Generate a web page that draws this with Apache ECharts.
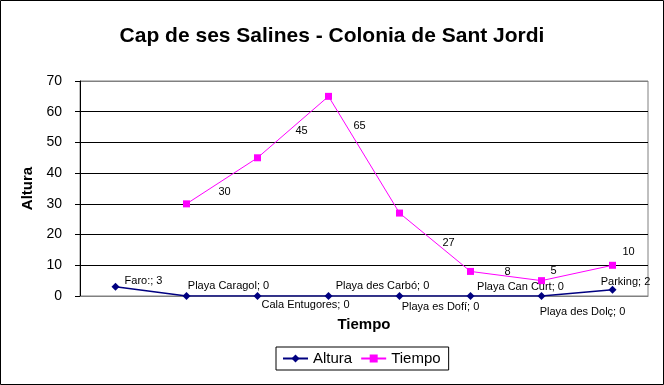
<!DOCTYPE html>
<html>
<head>
<meta charset="utf-8">
<script src="https://cdn.jsdelivr.net/npm/echarts@6/dist/echarts.min.js"></script>
<style>
html,body{margin:0;padding:0;background:#fff;}
#c{width:664px;height:385px;}
</style>
</head>
<body>
<div id="c"></div>
<script>
const categories = ["Faro:", "Playa Caragol", "Cala Entugores", "Playa des Carbó", "Playa es Dofí", "Playa Can Curt", "Playa des Dolç", "Parking"];
const altura = [3, 0, 0, 0, 0, 0, 0, 2];
const tiempo = [null, 30, 45, 65, 27, 8, 5, 10];
const yTicks = { min: 0, max: 70, interval: 10 };

// label placement offsets (styling only)
const alturaLabelOffsets = [[28,-6],[42,-10],[48,9],[54,-10],[41,11],[50,-9],[41,16],[13,-8]];
const tiempoLabelOffsets = [null,[38,-12],[44,-27],[31,30],[49,30],[37,1],[12,-10],[16,-13]];

const FONT = "Liberation Sans, Arial, sans-serif";

const chart = echarts.init(document.getElementById('c'), null, {renderer:'canvas'});

const alturaData = altura.map((v,i)=>({
  value: v,
  label: { offset: alturaLabelOffsets[i] }
}));
const tiempoData = tiempo.map((v,i)=>({
  value: v,
  label: { offset: tiempoLabelOffsets[i] || [0,0] }
}));

chart.setOption({
  animation: false,
  backgroundColor: '#fff',
  title: {
    text: 'Cap de ses Salines - Colonia de Sant Jordi',
    left: 'center',
    top: 21,
    textStyle: { fontFamily: FONT, fontSize: 21, fontWeight: 'bold', color: '#000' }
  },
  grid: { left: 80, top: 81, right: 16, bottom: 89, show: true, borderColor: '#808080', borderWidth: 1, backgroundColor: 'transparent' },
  legend: {
    data: ['Altura','Tiempo'],
    left: 276,
    top: 347,
    itemWidth: 25,
    itemHeight: 10,
    itemGap: 8,
    padding: [4,8,4,6],
    borderColor: '#000',
    borderWidth: 1,
    textStyle: { fontFamily: FONT, fontSize: 15, color: '#000' }
  },
  xAxis: {
    type: 'category',
    data: categories,
    boundaryGap: true,
    name: 'Tiempo',
    nameLocation: 'middle',
    nameGap: 21,
    nameTextStyle: { fontFamily: FONT, fontSize: 15, fontWeight: 'bold', color: '#000' },
    axisLine: { lineStyle: { color: '#808080' } },
    axisTick: { show: false },
    axisLabel: { show: false }
  },
  yAxis: {
    type: 'value',
    min: yTicks.min,
    max: yTicks.max,
    interval: yTicks.interval,
    name: 'Altura',
    nameLocation: 'middle',
    nameGap: 41,
    nameTextStyle: { fontFamily: FONT, fontSize: 15, fontWeight: 'bold', color: '#000' },
    axisLine: { show: true, lineStyle: { color: '#000' } },
    axisTick: { show: true, length: 5, lineStyle: { color: '#000' } },
    axisLabel: { fontFamily: FONT, fontSize: 14, color: '#000', margin: 18 },
    splitLine: { show: true, lineStyle: { color: ['#808080','#000','#000','#000','#000','#000','#000','#808080'] } }
  },
  series: [
    {
      name: 'Altura',
      type: 'line',
      data: alturaData,
      color: '#000080',
      symbol: 'diamond',
      symbolSize: 8,
      lineStyle: { width: 1.5, color: '#000080' },
      itemStyle: { color: '#000080' },
      z: 3,
      label: {
        show: true,
        position: 'inside',
        formatter: p => p.name + '; ' + p.value,
        fontFamily: FONT,
        fontSize: 11,
        color: '#000'
      }
    },
    {
      name: 'Tiempo',
      type: 'line',
      data: tiempoData,
      color: '#FF00FF',
      symbol: 'rect',
      symbolSize: 7,
      connectNulls: false,
      lineStyle: { width: 1, color: '#FF00FF' },
      itemStyle: { color: '#FF00FF' },
      label: {
        show: true,
        position: 'inside',
        formatter: p => String(p.value),
        fontFamily: FONT,
        fontSize: 11,
        color: '#000'
      }
    }
  ],
  graphic: [
    { type: 'rect', shape: { x: 0.5, y: 0.5, width: 663, height: 384 }, style: { fill: 'none', stroke: '#000', lineWidth: 1 }, silent: true, z: 100 }
  ]
});
</script>
</body>
</html>
